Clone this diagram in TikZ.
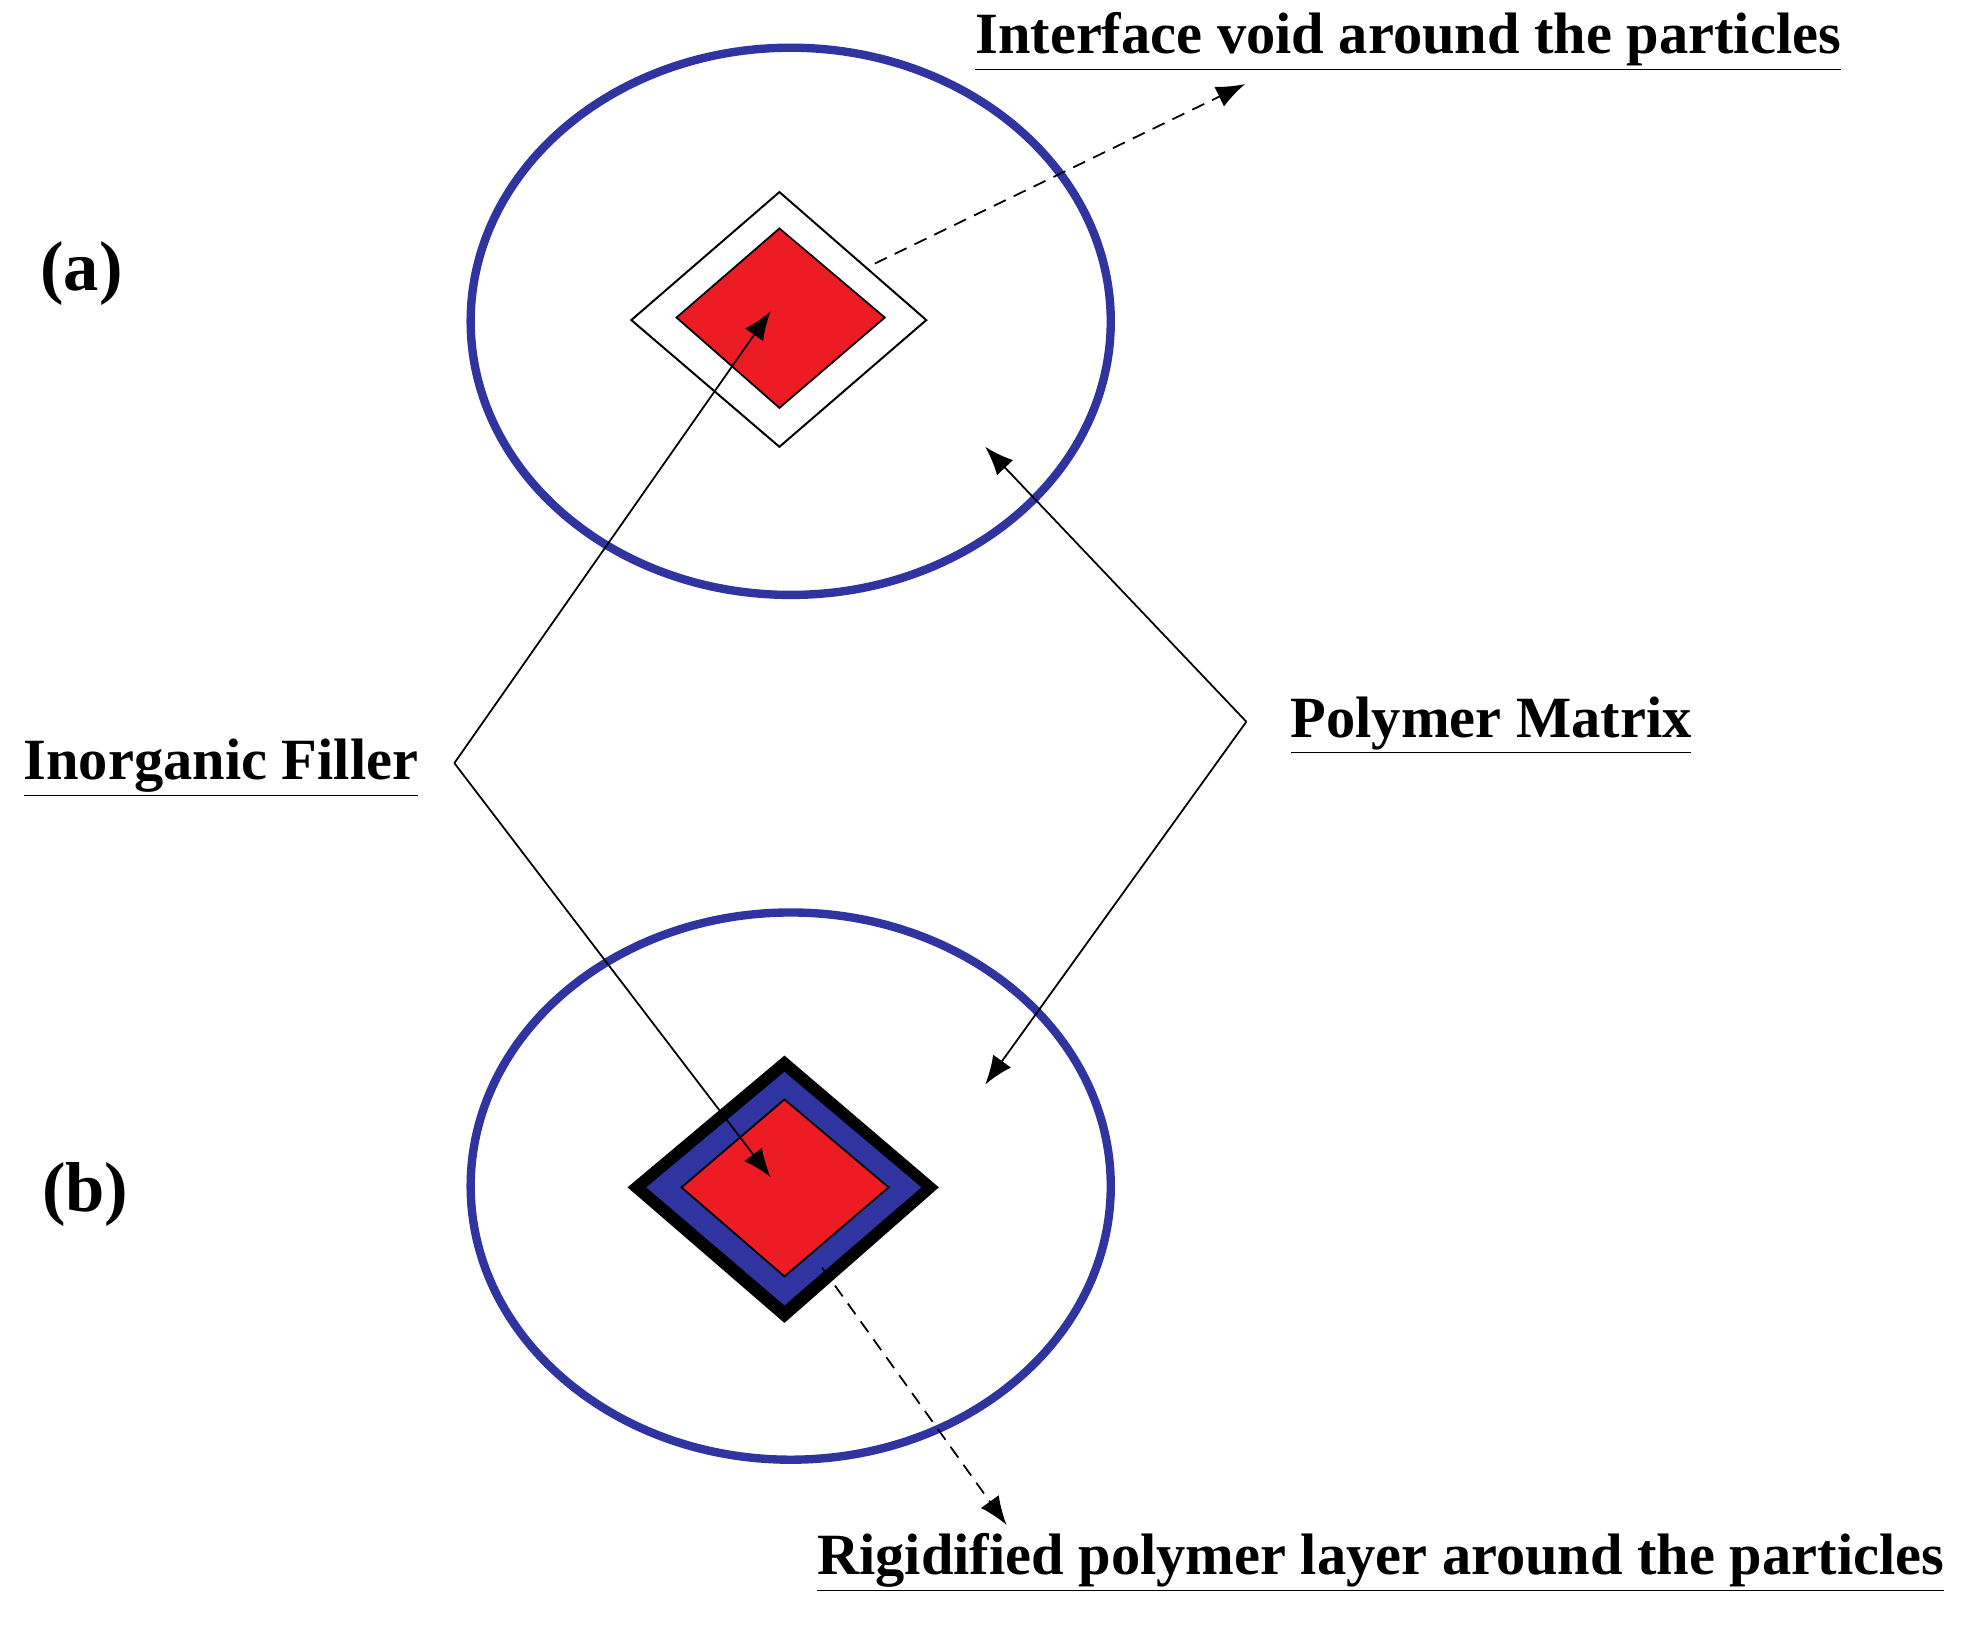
\documentclass[tikz,border=0pt]{standalone}
\usepackage{fontspec}
\setmainfont{Liberation Serif}
\usetikzlibrary{arrows.meta}
\definecolor{eblue}{RGB}{48,52,160}
\definecolor{fred}{RGB}{237,28,36}
\newcommand{\ul}[1]{\underline{#1}}
\begin{document}
\begin{tikzpicture}[x=0.02cm,y=-0.02cm,
  lbl/.style={font=\fontsize{26.5}{30}\selectfont\bfseries},
  big/.style={font=\fontsize{32}{36}\selectfont\bfseries},
  ell/.style={draw=eblue,line width=3.8pt},
  arr/.style={line width=0.8pt,-{Latex[length=13pt,width=10pt]}},
  darr/.style={arr,dashed,dash pattern=on 6pt off 4pt}]
\useasboundingbox (0,0) rectangle (1568,1296);
% (a)
\draw[ell] (630,256) ellipse [x radius=255,y radius=218];
\draw[line width=0.9pt,fill=white] (621,153)--(738,255)--(621,356)--(503,255)--cycle;
\draw[line width=0.8pt,fill=fred] (621,182)--(705,253)--(621,325)--(539,253)--cycle;
% (b)
\draw[ell] (630,945) ellipse [x radius=255,y radius=218];
\fill[black] (625,841)--(748,946)--(625,1054)--(500,946)--cycle;
\fill[eblue] (625,854)--(734,946)--(625,1040)--(515,946)--cycle;
\draw[line width=0.8pt,fill=fred] (625,876)--(708,946)--(625,1017)--(543,946)--cycle;
% labels
\node[big] (la) at (65,218) {(a)};
\node[big] (lb) at (68,952) {(b)};
\node[lbl] (iv) at (1122,33) {\ul{Interface void around the particles}};
\node[lbl] (pm) at (1188,578) {\ul{Polymer Matrix}};
\node[lbl] (inf) at (176,612) {\ul{Inorganic Filler}};
\node[lbl] (rp) at (1100,1245) {\ul{Rigidified polymer layer around the particles}};
% connectors
\coordinate (d1s) at (697,210); \coordinate (d1e) at (992,67);
\draw[darr] (d1s) -- (d1e);
\coordinate (d2s) at (655,1010); \coordinate (d2e) at (802,1215);
\draw[darr] (d2s) -- (d2e);
\coordinate (fv) at (362,608);
\coordinate (fa) at (614,248); \coordinate (fb) at (614,938);
\draw[arr] (fv) -- (fa);
\draw[arr] (fv) -- (fb);
\coordinate (pv) at (993,575);
\coordinate (pa) at (785,356); \coordinate (pb) at (785,864);
\draw[arr] (pv) -- (pa);
\draw[arr] (pv) -- (pb);
\end{tikzpicture}
\end{document}
